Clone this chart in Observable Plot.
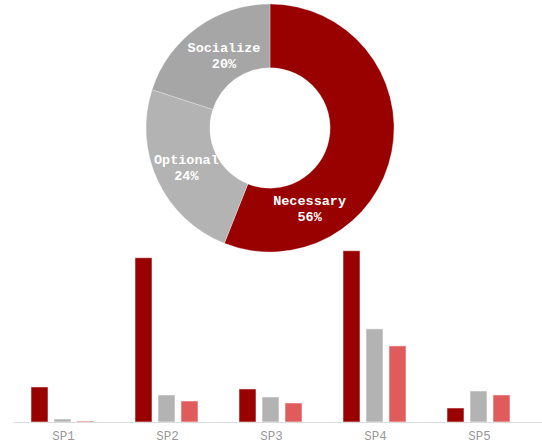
<!DOCTYPE html>
<html>
<head>
<meta charset="utf-8">
<script src="https://cdn.jsdelivr.net/npm/d3@7"></script>
<script src="https://cdn.jsdelivr.net/npm/@observablehq/plot@0.6"></script>
<style>
  html, body { margin: 0; padding: 0; background: #fff; }
  #wrap { position: relative; width: 542px; height: 446px; }
  #wrap svg { position: absolute; left: 0; top: 0; }
</style>
</head>
<body>
<div id="wrap"></div>
<script>
// ---- Donut data ----
const sliceNames = ["Necessary", "Optional", "Socialize"];
const sliceShares = [56, 24, 20];
const sliceColors = ["#990000", "#b3b3b3", "#a6a6a6"];

// ---- Bar data ----
const sprints = ["SP1", "SP2", "SP3", "SP4", "SP5"];
const seriesNames = ["Necessary", "Optional", "Socialize"];
const necessaryVals = [35, 164, 33, 171, 14];
const optionalVals  = [3, 27, 25, 93, 31];
const socializeVals = [1, 21, 19, 76, 27];
const barColors = ["#990000", "#b3b3b3", "#e05c5c"];

const W = 542, H = 446;
const wrap = document.getElementById("wrap");

// ---- Bar chart ----
const seriesVals = [necessaryVals, optionalVals, socializeVals];
const barRows = [];
sprints.forEach((sp, i) => seriesNames.forEach((s, j) => barRows.push({sprint: sp, series: s, value: seriesVals[j][i]})));

const bars = Plot.plot({
  width: W, height: H,
  marginTop: 250.7, marginBottom: 24, marginLeft: 14.5, marginRight: 15.5,
  style: {background: "transparent", overflow: "visible"},
  fx: {domain: sprints, padding: 0.1, label: null},
  x: {domain: seriesNames, axis: null, paddingInner: 0.217, paddingOuter: 0.64},
  y: {domain: [0, 171], axis: null},
  color: {domain: seriesNames, range: barColors},
  marks: [
    Plot.axisFx({anchor: "bottom", tickSize: 0, tickPadding: 9, label: null, fill: "#999999", fontSize: 12.5, fontFamily: "'Liberation Mono', monospace"}),
    Plot.barY(barRows, {fx: "sprint", x: "series", y: "value", fill: "series", stroke: "#ffffff", strokeOpacity: 0.55, strokeWidth: 1, insetLeft: 0.5, insetRight: 0.5})
  ]
});
wrap.appendChild(bars);

// axis baseline
const baseline = Plot.plot({
  width: W, height: H,
  marginTop: 250.7, marginBottom: 24, marginLeft: 13, marginRight: 0,
  style: {background: "transparent"},
  x: {domain: [0, 1], axis: null},
  y: {domain: [0, 171], axis: null},
  marks: [Plot.ruleY([0], {stroke: "#dcdcdc", strokeWidth: 1.2})]
});
wrap.appendChild(baseline);

// ---- Donut ----
const total = d3.sum(sliceShares);
const pie = d3.pie().sort(null).value(d => d.share)(sliceNames.map((n, i) => ({name: n, share: sliceShares[i], color: sliceColors[i]})));
const innerR = 0.485, outerR = 1; // relative radii
// label placement (layout only): fraction along slice, relative radius
const labelFrac = [0.764, 0.5, 0.55];
const labelRad = [0.72, 0.75, 0.70];
const labelRows = pie.map((a, i) => {
  const ang = a.startAngle + (a.endAngle - a.startAngle) * labelFrac[i];
  const r = labelRad[i];
  return {name: a.data.name, pct: Math.round(a.data.share / total * 100) + "%", x: r * Math.sin(ang), y: r * Math.cos(ang)};
});

function donutMark(index, scales) {
  const cx = scales.x(0), cy = scales.y(0);
  const R = scales.x(1) - scales.x(0);
  const arc = d3.arc().innerRadius(R * innerR).outerRadius(R * outerR);
  const g = d3.create("svg:g").attr("transform", `translate(${cx},${cy})`);
  g.selectAll("path").data(pie).join("path")
    .attr("d", arc)
    .attr("fill", d => d.data.color)
    .attr("stroke", "#ffffff")
    .attr("stroke-opacity", 0.35)
    .attr("stroke-width", 0.8);
  return g.node();
}

const donut = Plot.plot({
  width: W, height: H,
  margin: 0,
  style: {background: "transparent"},
  x: {domain: [-1, 1], range: [270 - 124, 270 + 124], axis: null},
  y: {domain: [-1, 1], range: [128 + 124, 128 - 124], axis: null},
  marks: [
    donutMark,
    Plot.text(labelRows, {x: "x", y: "y", text: "name", dy: -8, fill: "white", fontWeight: "bold", fontSize: 13.5, fontFamily: "'Liberation Mono', monospace"}),
    Plot.text(labelRows, {x: "x", y: "y", text: "pct", dy: 8, fill: "white", fontWeight: "bold", fontSize: 13.5, fontFamily: "'Liberation Mono', monospace"})
  ]
});
wrap.appendChild(donut);
</script>
</body>
</html>
